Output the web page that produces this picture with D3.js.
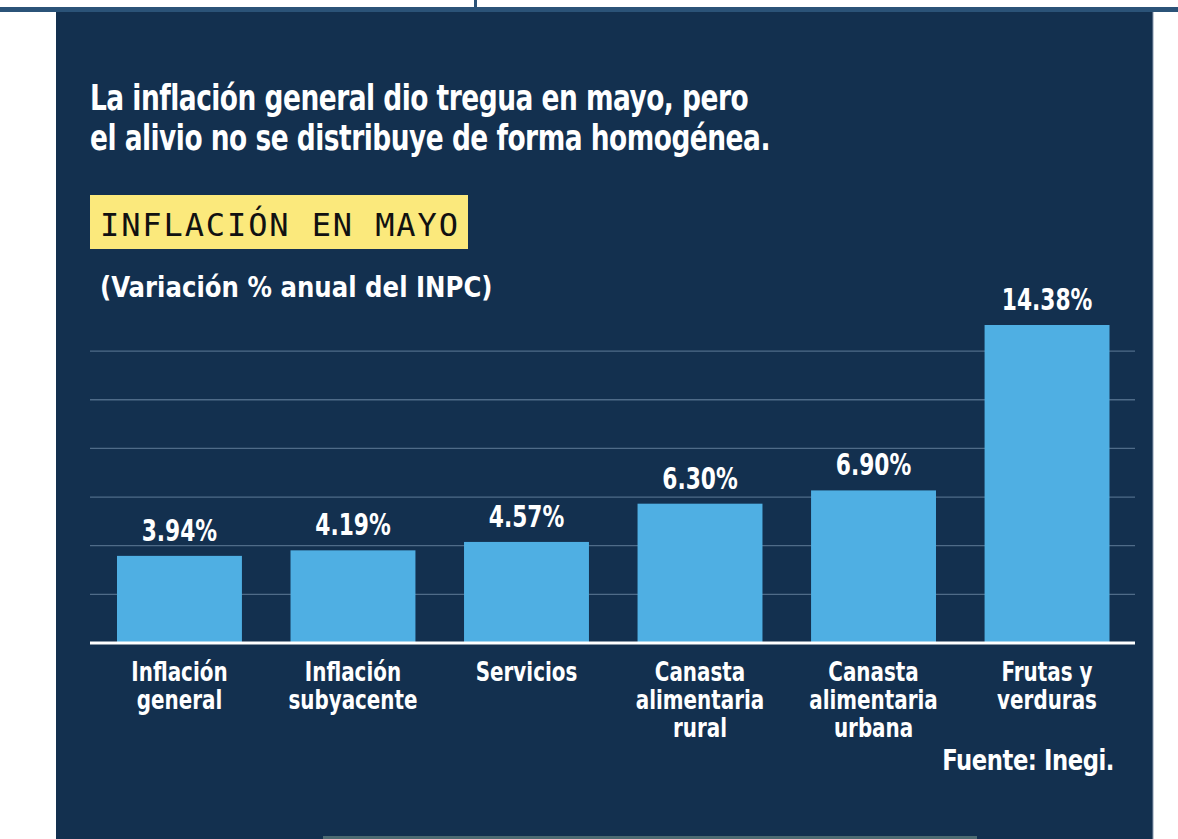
<!DOCTYPE html>
<html><head><meta charset="utf-8">
<script src="https://cdn.jsdelivr.net/npm/d3@7/dist/d3.min.js"></script>
<style>
html,body{margin:0;padding:0;background:#fff;}
svg{display:block;}
</style></head>
<body>
<svg id="chart" width="1178" height="839"></svg>
<script>
const categories = [
  ["Inflación","general"],
  ["Inflación","subyacente"],
  ["Servicios"],
  ["Canasta","alimentaria","rural"],
  ["Canasta","alimentaria","urbana"],
  ["Frutas y","verduras"]
];
const values = [3.94, 4.19, 4.57, 6.30, 6.90, 14.38];
const valueLabels = ["3.94%","4.19%","4.57%","6.30%","6.90%","14.38%"];
const gridTicks = [2.2, 4.4, 6.6, 8.8, 11, 13.2];
const titleLines = ["La inflación general dio tregua en mayo, pero","el alivio no se distribuye de forma homogénea."];
const boxLabel = "INFLACIÓN EN MAYO";
const subtitle = "(Variación % anual del INPC)";
const source = "Fuente: Inegi.";

const svg = d3.select("#chart");
const sans = "'DejaVu Sans Condensed','DejaVu Sans',sans-serif";

// horizontal condensing around the text's anchor x
function condense(sel, k){
  sel.each(function(){
    const ax = +this.getAttribute("x");
    this.setAttribute("transform", `translate(${ax*(1-k)},0) scale(${k},1)`);
  });
}

// frame
svg.append("rect").attr("x",0).attr("y",7).attr("width",1178).attr("height",5).attr("fill","#2b5378");
svg.append("rect").attr("x",474).attr("y",0).attr("width",3).attr("height",8).attr("fill","#2b5378");
svg.append("rect").attr("x",56).attr("y",12).attr("width",1097).attr("height",827).attr("fill","#13304f");
svg.append("line").attr("x1",1153).attr("x2",1153).attr("y1",12).attr("y2",839).attr("stroke","#8a9bb0").attr("stroke-width",1);
svg.append("rect").attr("x",323).attr("y",836).attr("width",654).attr("height",3).attr("fill","#4d6b72");

// title
const t1 = svg.append("g").selectAll("text").data(titleLines).join("text")
  .attr("x",90).attr("y",(d,i)=>110+i*40)
  .attr("fill","#fff").attr("font-family",sans).attr("font-weight","bold")
  .attr("font-size",35).attr("letter-spacing",-0.6)
  .text(d=>d);
condense(t1, 0.84);

// yellow box
svg.append("rect").attr("x",90).attr("y",195).attr("width",378).attr("height",54).attr("fill","#fbe97c");
svg.append("text").attr("x",100).attr("y",236).attr("fill","#111")
  .attr("font-family","'DejaVu Sans Mono','Liberation Mono',monospace")
  .attr("font-size",32).attr("letter-spacing",1.9).text(boxLabel);

const st = svg.append("text").attr("x",100).attr("y",297).attr("fill","#fff")
  .attr("font-family",sans).attr("font-weight","bold").attr("font-size",28).text(subtitle);
condense(st, 0.97);

// scales
const x = d3.scaleBand().domain(d3.range(values.length)).range([92.7,1133.8]).paddingInner(0.28).paddingOuter(0.14);
const y = d3.scaleLinear().domain([0,14.38]).range([643,325]);

// grid
svg.append("g").selectAll("line").data(gridTicks).join("line")
  .attr("x1",90).attr("x2",1135).attr("y1",d=>y(d)).attr("y2",d=>y(d))
  .attr("stroke","#4f6b88").attr("stroke-width",1.3);

// bars
svg.append("g").selectAll("rect").data(values).join("rect")
  .attr("x",(d,i)=>x(i)).attr("width",x.bandwidth())
  .attr("y",d=>y(d)).attr("height",d=>y(0)-y(d))
  .attr("fill","#4fafe3");

// baseline
svg.append("line").attr("x1",90).attr("x2",1135).attr("y1",y(0)).attr("y2",y(0))
  .attr("stroke","#fff").attr("stroke-width",3);

// value labels
const vl = svg.append("g").selectAll("text").data(values).join("text")
  .attr("x",(d,i)=>x(i)+x.bandwidth()/2).attr("y",d=>y(d)-15)
  .attr("text-anchor","middle").attr("fill","#fff")
  .attr("font-family",sans).attr("font-weight","bold").attr("font-size",31)
  .text((d,i)=>valueLabels[i]);
condense(vl, 0.78);

// category labels
const cg = svg.append("g").selectAll("text").data(categories).join("text")
  .attr("x",(d,i)=>x(i)+x.bandwidth()/2).attr("y",681)
  .attr("text-anchor","middle").attr("fill","#fff")
  .attr("font-family",sans).attr("font-weight","bold").attr("font-size",27);
cg.selectAll("tspan").data(d=>d).join("tspan")
  .attr("x",function(){return d3.select(this.parentNode).attr("x");})
  .attr("dy",(d,i)=>i===0?0:28).text(d=>d);
condense(cg, 0.82);

const src = svg.append("text").attr("x",1114).attr("y",770).attr("text-anchor","end").attr("fill","#fff")
  .attr("font-family",sans).attr("font-weight","bold").attr("font-size",29).attr("letter-spacing",-0.5).text(source);
condense(src, 0.87);
</script>
</body></html>
